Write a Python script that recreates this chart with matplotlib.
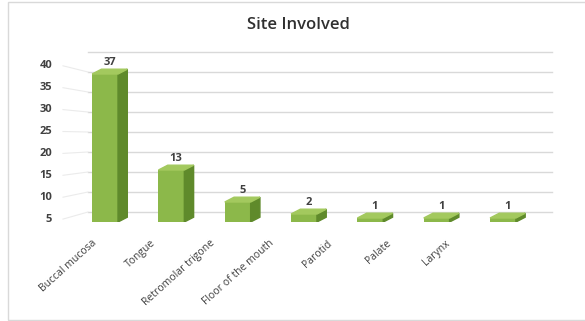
import matplotlib.pyplot as plt
from matplotlib.patches import Polygon, Rectangle

sites = ["Buccal mucosa", "Tongue", "Retromolar trigone", "Floor of the mouth",
         "Parotid", "Palate", "Larynx"]
counts = [37, 13, 5, 2, 1, 1, 1]
tick_labels = [5, 10, 15, 20, 25, 30, 35, 40]

front_col = "#8cb84a"
side_col = "#5f8a2b"
top_col = "#a3c95e"
text_col = "#404040"

plt.rcParams['font.family'] = ['Open Sans', 'DejaVu Sans']

fig = plt.figure(figsize=(5.85, 3.21), dpi=100)
ax = fig.add_axes([60/585, 99/321, 500/585, 172/321])
ax.set_xlim(-0.68, 6.86)
ax.set_ylim(0, 43)
ax.axis("off")

# fake 3d depth (in data units)
dx, dy = 0.14, 1.2
w = 0.39

# back wall gridlines and left wall diagonals
for L in tick_labels + [45]:
    ax.plot([-0.258, 6.74], [L - 2.5, L - 2.5], color="#d9d9d9", lw=1, clip_on=False, zorder=1)
for L in tick_labels:
    front = 1.095 * L - 4.75
    ax.plot([-0.635, -0.258], [front, L - 2.5], color="#ebebeb", lw=0.8, clip_on=False, zorder=1)
    ax.text(-0.8, front, str(L), ha="right", va="center", fontsize=8,
            color=text_col, fontweight="bold")

xs = list(range(len(counts)))
ax.bar(xs, counts, width=w, color=front_col, zorder=3)
for x, v in zip(xs, counts):
    l, r = x - w/2, x + w/2
    ax.add_patch(Polygon([[r, 0], [r + dx, dy], [r + dx, v + dy], [r, v]],
                         closed=True, color=side_col, zorder=3))
    ax.add_patch(Polygon([[l, v], [r, v], [r + dx, v + dy], [l + dx, v + dy]],
                         closed=True, color=top_col, zorder=3))
    ax.text(x + dx/2, v + dy + 0.3, str(v), ha="center", va="bottom",
            fontsize=8, fontweight="bold", color=text_col, zorder=4)

for i, name in enumerate(sites):
    ax.text(i * 0.887 - 0.2, -4, name, rotation=42, ha="right", va="top",
            rotation_mode="anchor", fontsize=7.5, color=text_col, clip_on=False)

fig.text(298/585, 1 - 25/321, "Site Involved", ha="center", va="center",
         fontsize=12, color="#303030", fontweight="semibold")

fig.add_artist(Rectangle((8/585, 1/321), 600/585, 318/321, transform=fig.transFigure,
                         fill=False, edgecolor="#d9d9d9", lw=1))

fig.savefig("out.png", dpi=100)
